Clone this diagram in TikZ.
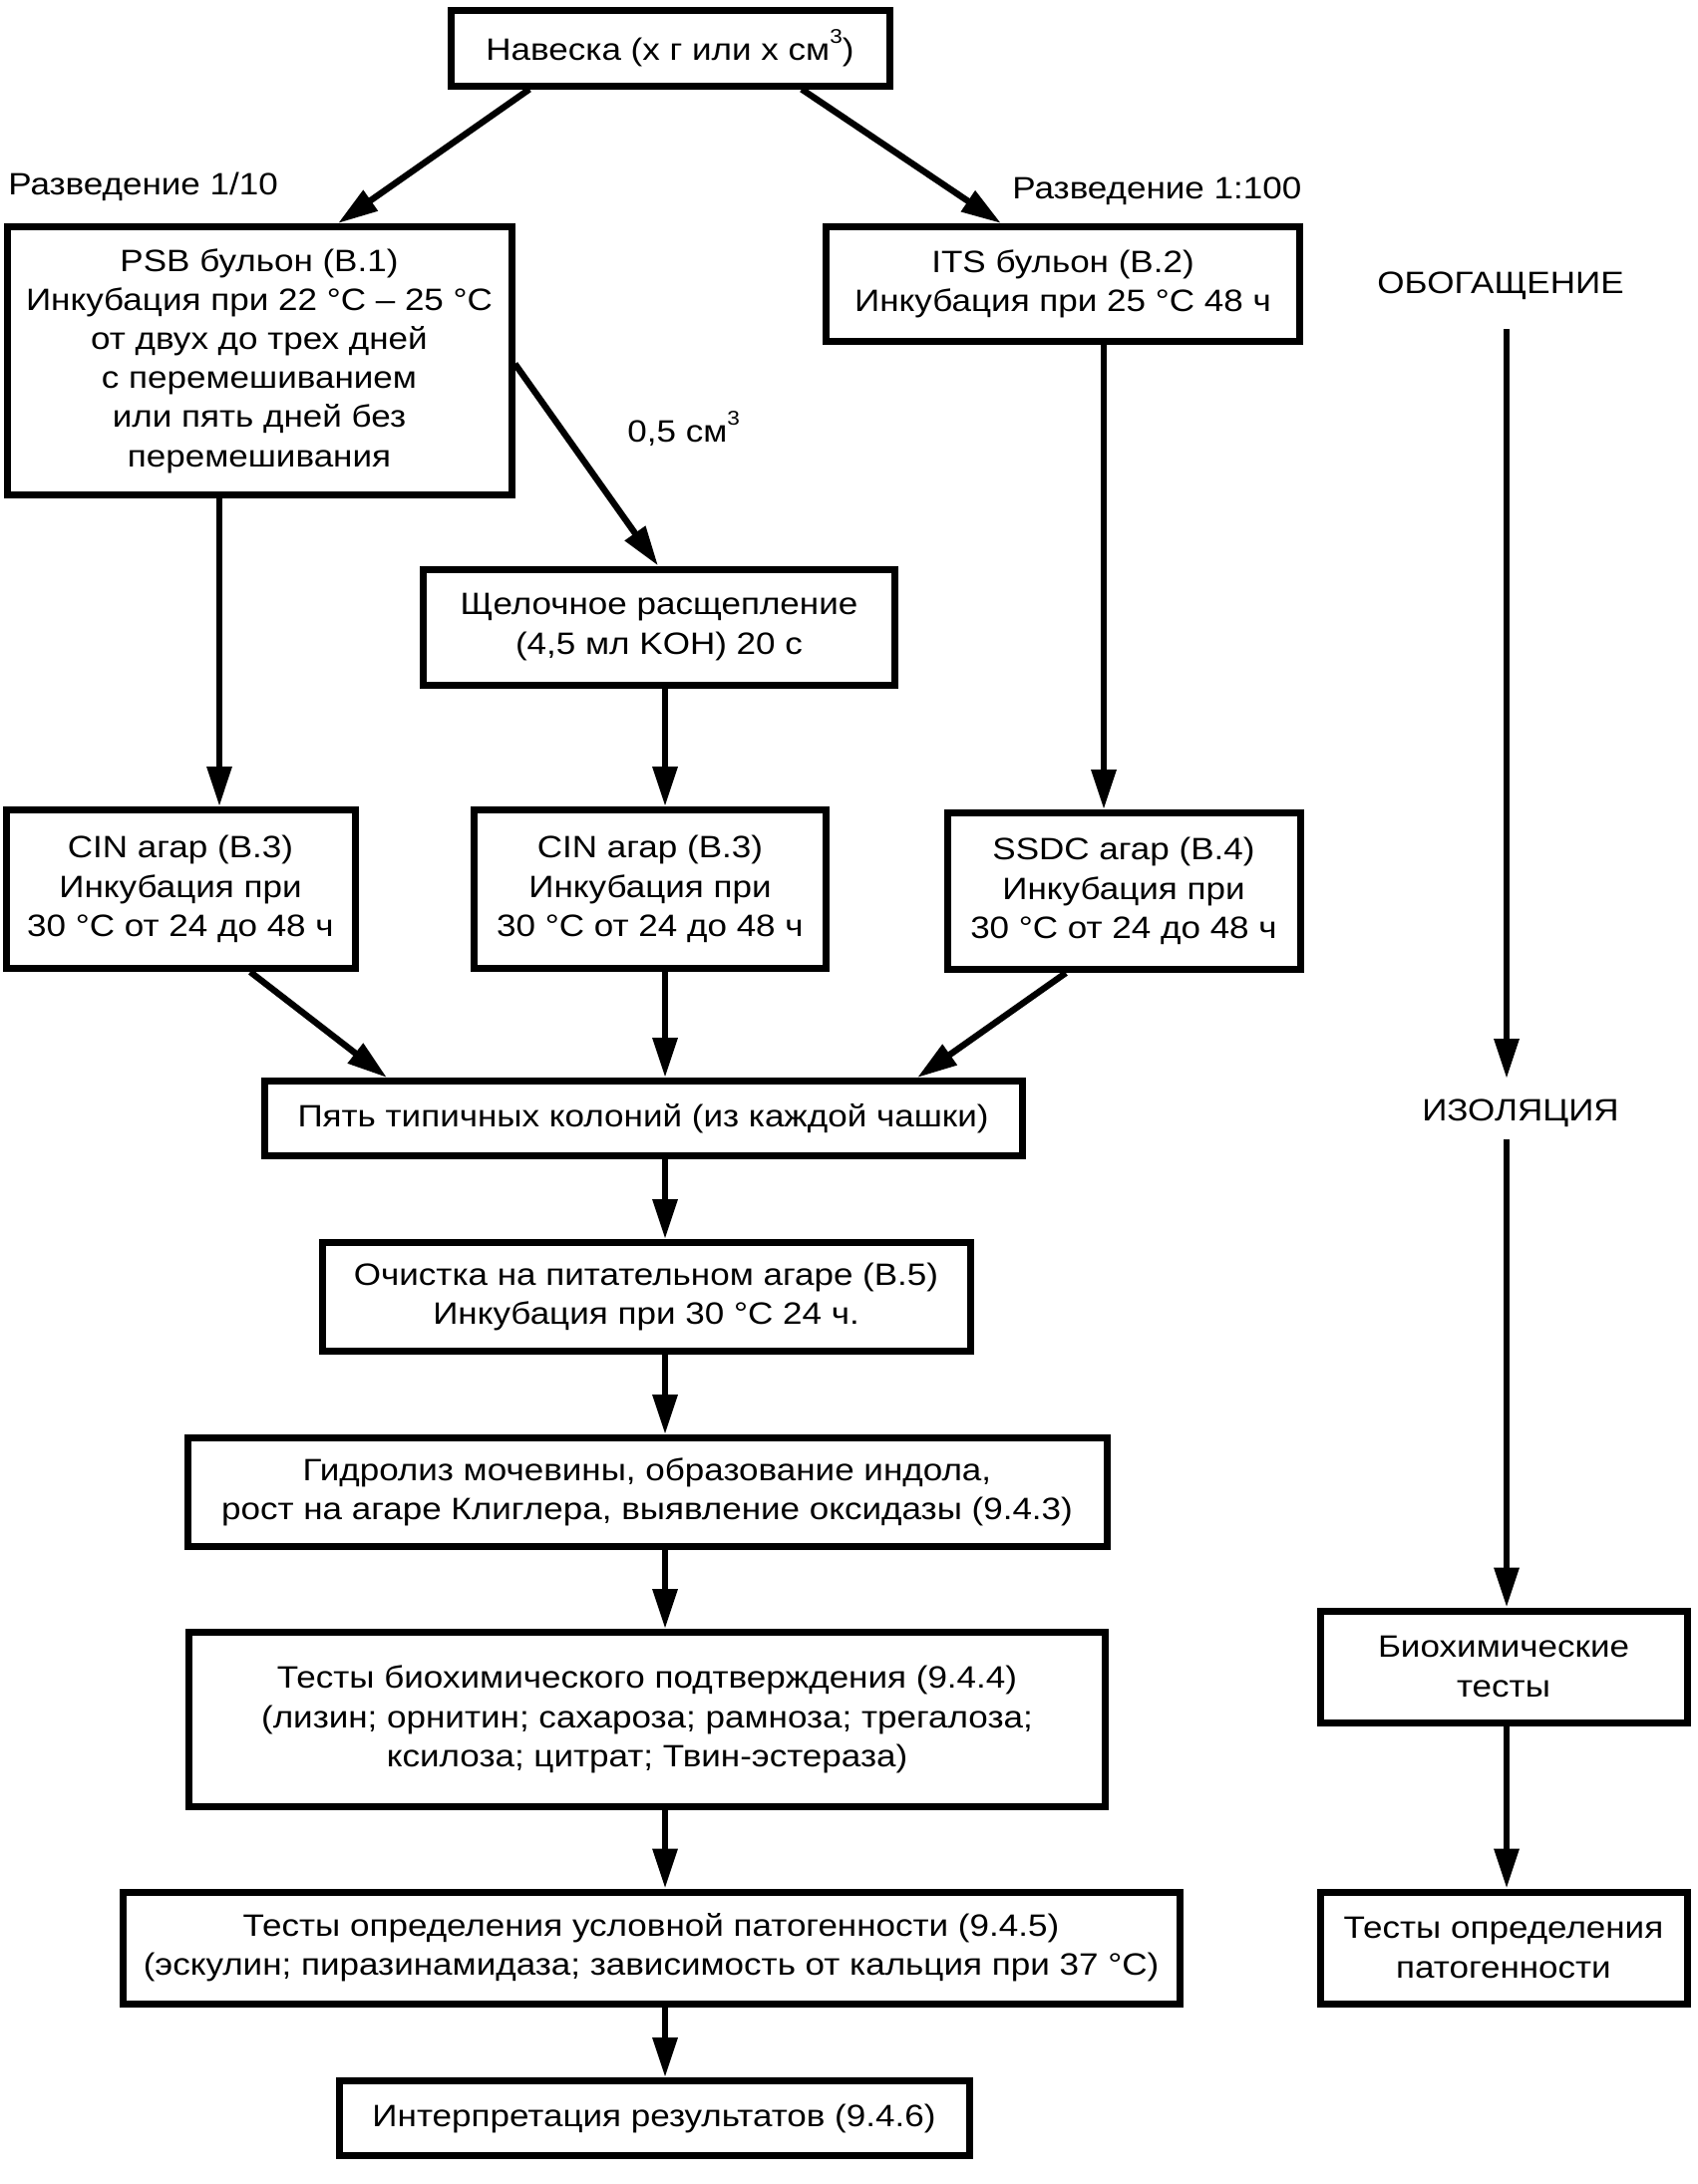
\documentclass[tikz,border=0pt]{standalone}
\usepackage{fontspec}
\setmainfont[FakeStretch=1.13]{Liberation Sans}
\usetikzlibrary{arrows.meta,calc}
\newcommand{\cubesup}{\raisebox{1.05ex}{\fontsize{10}{10}\selectfont 3}}
\begin{document}
\begin{tikzpicture}[x=0.5pt,y=-0.5pt,
  every node/.style={font=\fontsize{15.5}{19.6}\selectfont, align=center, inner sep=0pt},
  box/.style={draw, line width=3.5pt, rectangle},
  arr/.style={line width=3.2pt, -{Triangle[length=20pt,width=12pt]}},
  ln/.style={line width=3.2pt}]
\useasboundingbox (0,0) rectangle (1703,2191);
% boxes
\node[box, minimum width=220pt, minimum height=38pt] (top) at (672,48) {Навеска (x г или x см\cubesup)};
\node[box, minimum width=253pt, minimum height=134.5pt] (psb) at (260,362) {PSB бульон (B.1)\\Инкубация при 22 °C – 25 °C\\от двух до трех дней\\с перемешиванием\\или пять дней без\\перемешивания};
\node[box, minimum width=237.5pt, minimum height=57.5pt] (its) at (1066,285) {ITS бульон (B.2)\\Инкубация при 25 °C 48 ч};
\node[box, minimum width=236.5pt, minimum height=58pt] (alk) at (661,629) {Щелочное расщепление\\(4,5 мл KOH) 20 с};
\node[box, minimum width=175pt, minimum height=79.5pt] (cin1) at (181,892) {CIN агар (B.3)\\Инкубация при\\30 °C от 24 до 48 ч};
\node[box, minimum width=176.5pt, minimum height=79.5pt] (cin2) at (652,892) {CIN агар (B.3)\\Инкубация при\\30 °C от 24 до 48 ч};
\node[box, minimum width=177pt, minimum height=78.5pt] (ssdc) at (1127,894) {SSDC агар (B.4)\\Инкубация при\\30 °C от 24 до 48 ч};
\node[box, minimum width=380pt, minimum height=37.5pt] (five) at (645,1122) {Пять типичных колоний (из каждой чашки)};
\node[box, minimum width=325pt, minimum height=54.5pt] (pur) at (648,1301) {Очистка на питательном агаре (B.5)\\Инкубация при 30 °C 24 ч.};
\node[box, minimum width=461pt, minimum height=54.5pt] (hyd) at (649,1497) {Гидролиз мочевины, образование индола,\\рост на агаре Клиглера, выявление оксидазы (9.4.3)};
\node[box, minimum width=459.5pt, minimum height=87.5pt] (conf) at (649,1725) {Тесты биохимического подтверждения (9.4.4)\\(лизин; орнитин; сахароза; рамноза; трегалоза;\\ксилоза; цитрат; Твин-эстераза)};
\node[box, minimum width=530pt, minimum height=56pt] (pat) at (653,1954) {Тесты определения условной патогенности (9.4.5)\\(эскулин; пиразинамидаза; зависимость от кальция при 37 °C)};
\node[box, minimum width=316pt, minimum height=37.5pt] (int) at (656,2125) {Интерпретация результатов (9.4.6)};
\node[box, minimum width=184pt, minimum height=56pt] (bio) at (1508,1672) {Биохимические\\тесты};
\node[box, minimum width=184pt, minimum height=56pt] (pth) at (1508,1954) {Тесты определения\\патогенности};
% labels
\node[anchor=west] (l1) at (8,187) {Разведение 1/10};
\node[anchor=west] (l2) at (1015,192) {Разведение 1:100};
\node[anchor=west] (l3) at (629,430) {0,5 см\cubesup};
\node (enr) at (1505,287) {ОБОГАЩЕНИЕ};
\node (iso) at (1525,1117) {ИЗОЛЯЦИЯ};
% x guides
\coordinate (xa) at (531,0);
\coordinate (xb) at (339,0);
\coordinate (xc) at (804,0);
\coordinate (xd) at (1004,0);
\coordinate (xe) at (660,0);
\coordinate (ya) at (0,365);
\coordinate (xf) at (251,0);
\coordinate (xg) at (388,0);
\coordinate (xh) at (1069,0);
\coordinate (xi) at (920,0);
\coordinate (xm) at (667,0);
\coordinate (xp) at (220,0);
\coordinate (xs) at (1107,0);
\coordinate (xr) at (1511,0);
\coordinate (r1) at (1511,330);
\coordinate (r2) at (1511,1082);
\coordinate (r3) at (1511,1143);
% connectors
\draw[arr] (top.south -| xa) -- (psb.north -| xb);
\draw[arr] (top.south -| xc) -- (its.north -| xd);
\draw[arr] (psb.east |- ya) -- (alk.north -| xe);
\draw[arr] (psb.south -| xp) -- (cin1.north -| xp);
\draw[arr] (alk.south -| xm) -- (cin2.north -| xm);
\draw[arr] (its.south -| xs) -- (ssdc.north -| xs);
\draw[arr] (cin1.south -| xf) -- (five.north -| xg);
\draw[arr] (cin2.south -| xm) -- (five.north -| xm);
\draw[arr] (ssdc.south -| xh) -- (five.north -| xi);
\draw[arr] (five.south -| xm) -- (pur.north -| xm);
\draw[arr] (pur.south -| xm) -- (hyd.north -| xm);
\draw[arr] (hyd.south -| xm) -- (conf.north -| xm);
\draw[arr] (conf.south -| xm) -- (pat.north -| xm);
\draw[arr] (pat.south -| xm) -- (int.north -| xm);
\draw[arr] (r1) -- (r2);
\draw[arr] (r3) -- (bio.north -| xr);
\draw[arr] (bio.south -| xr) -- (pth.north -| xr);
\end{tikzpicture}
\end{document}
